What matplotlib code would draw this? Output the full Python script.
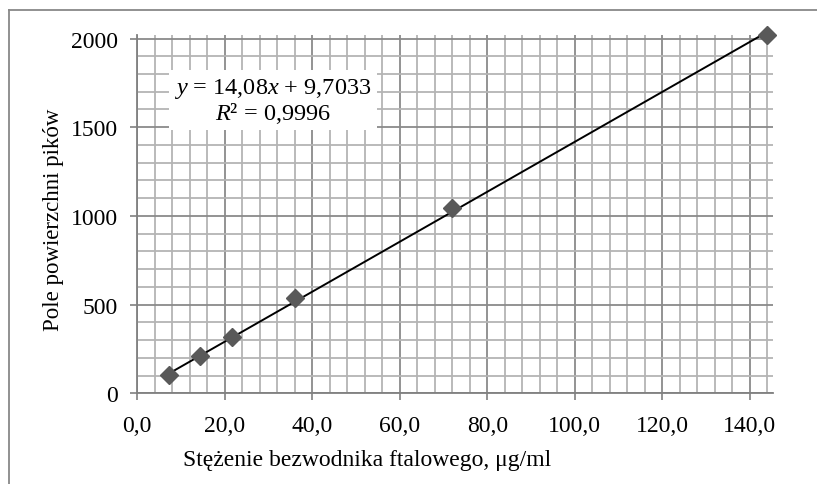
import matplotlib
matplotlib.use("Agg")
import matplotlib.pyplot as plt
from matplotlib.lines import Line2D
import numpy as np

# Data
conc = [7.2, 14.4, 21.6, 36.0, 72.0, 144.0]
area = [101, 212, 315, 535, 1044, 2020]
slope = 14.08
intercept = 9.7033
r2_text = "0,9996"
x_major = [0, 20, 40, 60, 80, 100, 120, 140]
x_labels = ["0,0", "20,0", "40,0", "60,0", "80,0", "100,0", "120,0", "140,0"]
y_major = [0, 500, 1000, 1500, 2000]
y_labels = ["0", "500", "1000", "1500", "2000"]

W, H = 817, 485
fig = plt.figure(figsize=(W / 100, H / 100), dpi=100)
plt.rcParams['font.family'] = ['Liberation Serif', 'DejaVu Serif']
plt.rcParams['mathtext.fontset'] = 'custom'
plt.rcParams['mathtext.rm'] = 'Liberation Serif'
plt.rcParams['mathtext.it'] = 'Liberation Serif:italic'

left, right, bottom, top = 137.3, 772.5, 394.3, 36.0
ax = fig.add_axes([left / W, 1 - bottom / H, (right - left) / W, (bottom - top) / H])
ax.set_xlim(0, 145.2)
ax.set_ylim(0, 2020)

# gridlines
ax.set_xticks(x_major)
ax.set_xticklabels(x_labels)
ax.set_yticks(y_major)
ax.set_yticklabels(y_labels)
ax.set_xticks(np.arange(0, 145, 4), minor=True)
ax.set_yticks(np.arange(0, 2001, 100), minor=True)
ax.grid(which='minor', color='#b4b4b4', linewidth=1.3, zorder=0)
ax.grid(which='major', color='#8a8a8a', linewidth=1.3, zorder=0)
ax.set_axisbelow(True)
ax.tick_params(which='minor', length=0)
ax.tick_params(which='major', direction='out', length=5, width=1.2, color='#808080',
               labelsize=17, colors='#808080', labelcolor='black')
ax.tick_params(axis='x', pad=10.5)
ax.tick_params(axis='y', pad=9)
for s in ['top', 'right']:
    ax.spines[s].set_visible(False)
for s in ['left', 'bottom']:
    ax.spines[s].set_color('#808080')
    ax.spines[s].set_linewidth(1.3)

# trendline
xt = np.array([min(conc), max(conc)])
ax.plot(xt, slope * xt + intercept, color='black', linewidth=1.4, zorder=3, clip_on=False)
ax.plot(conc, area, linestyle='none', marker='D', markersize=9.5, color='#595959',
        markeredgecolor='#595959', zorder=4, clip_on=False)

# equation box
fig.text(273 / W, 1 - 101.5 / H,
         "$y$ = 14,08$x$ + 9,7033\n$R$² = " + r2_text,
         ha='center', va='center', fontsize=17.5, linespacing=1.0,
         bbox=dict(boxstyle='square,pad=0.2', facecolor='white', edgecolor='none'))

fig.text(367 / W, 1 - 461 / H, "Stężenie bezwodnika ftalowego, μg/ml",
         ha='center', va='center', fontsize=17)
fig.text(53 / W, 1 - 220 / H, "Pole powierzchni pików", rotation=90,
         ha='center', va='center', fontsize=16.5)

# outer chart-area frame (cropped at right and bottom)
fig.add_artist(Line2D([9.3 / W, 9.3 / W], [0, 1 - 11 / H], transform=fig.transFigure,
                      color='#888888', linewidth=1.3))
fig.add_artist(Line2D([9.3 / W, 1], [1 - 11 / H, 1 - 11 / H], transform=fig.transFigure,
                      color='#888888', linewidth=1.3))

fig.savefig("out.png", dpi=100)
